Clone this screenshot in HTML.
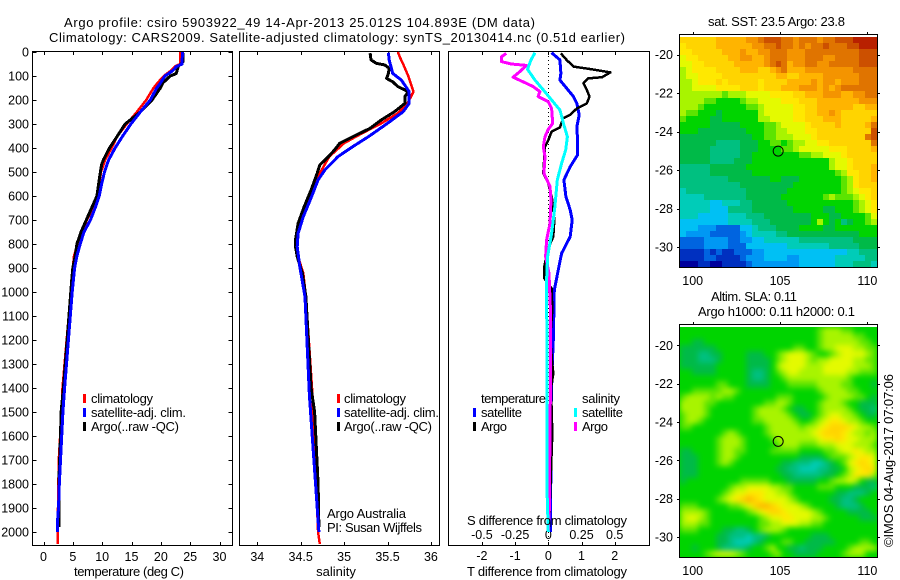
<!DOCTYPE html>
<html lang="en">
<head>
<meta charset="utf-8">
<title>Argo profile csiro 5903922_49</title>
<style>
html,body{margin:0;padding:0;background:#fff;width:900px;height:580px;overflow:hidden}
svg{display:block}
text{font-family:"Liberation Sans",sans-serif;font-size:13px;fill:#000}
#axes text{font-size:12.5px}
</style>
</head>
<body>
<svg id="chart" xmlns="http://www.w3.org/2000/svg" width="900" height="580" viewBox="0 0 900 580">
  <defs>
    <clipPath id="sla-clip"><rect x="680" y="327" width="197" height="230"/></clipPath>
    <filter id="sla-blur" x="-10%" y="-10%" width="120%" height="120%" color-interpolation-filters="sRGB"><feGaussianBlur stdDeviation="3"/></filter>
  </defs>
  <rect x="0" y="0" width="900" height="580" fill="#fff"/>
  <text x="64" y="27" textLength="471" lengthAdjust="spacing">Argo profile: csiro 5903922_49 14-Apr-2013 25.012S 104.893E (DM data)</text>
  <text x="49" y="42" textLength="576" lengthAdjust="spacing">Climatology: CARS2009. Satellite-adjusted climatology: synTS_20130414.nc (0.51d earlier)</text>

  <g id="heat-sst"></g>
  <g clip-path="url(#sla-clip)">
    <rect x="670" y="317" width="217" height="250" fill="#00d400"/>
    <g id="heat-sla" filter="url(#sla-blur)"></g>
  </g>
  <g id="axes"></g>
  <g id="series"></g>

  <text x="129" y="576" text-anchor="middle" textLength="110" lengthAdjust="spacing">temperature (deg C)</text>
  <text x="336" y="576" text-anchor="middle">salinity</text>
  <text x="547" y="576" text-anchor="middle" textLength="160" lengthAdjust="spacing">T difference from climatology</text>
  <text x="547" y="525" text-anchor="middle" textLength="160" lengthAdjust="spacing">S difference from climatology</text>

  <g>
    <rect x="83" y="394" width="3" height="9" fill="#f00"/>
    <text x="91" y="403" textLength="62" lengthAdjust="spacing">climatology</text>
    <rect x="83" y="408" width="3" height="9" fill="#00f"/>
    <text x="91" y="417" textLength="95" lengthAdjust="spacing">satellite-adj. clim.</text>
    <rect x="83" y="422" width="3" height="9" fill="#000"/>
    <text x="91" y="431" textLength="88" lengthAdjust="spacing">Argo(..raw -QC)</text>
  </g>
  <g>
    <rect x="337" y="394" width="3" height="9" fill="#f00"/>
    <text x="344" y="403" textLength="62" lengthAdjust="spacing">climatology</text>
    <rect x="337" y="408" width="3" height="9" fill="#00f"/>
    <text x="344" y="417" textLength="95" lengthAdjust="spacing">satellite-adj. clim.</text>
    <rect x="337" y="422" width="3" height="9" fill="#000"/>
    <text x="344" y="431" textLength="88" lengthAdjust="spacing">Argo(..raw -QC)</text>
  </g>
  <text x="327" y="518" textLength="79" lengthAdjust="spacing">Argo Australia</text>
  <text x="327" y="532" textLength="95" lengthAdjust="spacing">PI: Susan Wijffels</text>

  <g>
    <text x="481" y="403" textLength="65" lengthAdjust="spacing">temperature</text>
    <rect x="473" y="408" width="3" height="9" fill="#00f"/>
    <text x="481" y="417" textLength="41" lengthAdjust="spacing">satellite</text>
    <rect x="473" y="422" width="3" height="9" fill="#000"/>
    <text x="481" y="431" textLength="26" lengthAdjust="spacing">Argo</text>
    <text x="582" y="403" textLength="38" lengthAdjust="spacing">salinity</text>
    <rect x="574" y="408" width="3" height="9" fill="#0ff"/>
    <text x="582" y="417" textLength="41" lengthAdjust="spacing">satellite</text>
    <rect x="574" y="422" width="3" height="9" fill="#f0f"/>
    <text x="582" y="431" textLength="26" lengthAdjust="spacing">Argo</text>
  </g>

  <text x="708" y="26" textLength="137" lengthAdjust="spacing">sat. SST: 23.5 Argo: 23.8</text>
  <text x="711" y="301" textLength="86" lengthAdjust="spacing">Altim. SLA: 0.11</text>
  <text x="698" y="316" textLength="157" lengthAdjust="spacing">Argo h1000: 0.11 h2000: 0.1</text>
  <text transform="translate(893,547) rotate(-90)" textLength="173" lengthAdjust="spacing">©IMOS 04-Aug-2017 07:07:06</text>
</svg>

<script>
// ---------- profile data (depth in m) ----------
const tempDepthTicks = [0,100,200,300,400,500,600,700,800,900,1000,1100,1200,1300,1400,1500,1600,1700,1800,1900,2000];
const temperatureTicks = [0,5,10,15,20,25,30];
const salinityTicks = [34,34.5,35,35.5,36];
const tDiffTicks = [-2,-1,0,1,2];
const sDiffTicks = [-0.5,-0.25,0,0.25,0.5];
const sDiffTickLabels = ['-0.5','-0.25','0','0.25','0.5'];
const lonTicks = [100,105,110];
const latTicks = [-20,-22,-24,-26,-28,-30];

const tClimDepth = [0,50,60,80,100,130,150,200,250,300,350,400,450,500,550,600,650,700,750,800,850,900,1000,1400,1500,1700,2000,2050];
const tClimValue = [23.35,23.3,22.4,21.6,20.5,19.4,18.75,17.5,15.9,14.2,12.6,11.6,10.5,9.8,9.5,9.1,8.4,7.4,6.5,5.8,5.2,5.0,4.65,3.24,3.07,2.6,2.4,2.4];
const tArgoDepth = [5,40,60,90,100,130,150,200,250,300,350,400,450,470,500,550,600,650,700,750,800,850,900,950,1000,1400,1500,1600,1800,1980];
const tArgoValue = [23.75,23.8,23,22.6,21.6,20.3,19.9,18.5,16.5,13.9,12.6,11.25,10.2,9.9,9.7,9.4,9.1,8.2,7.3,6.4,5.7,5.4,5.0,4.8,4.65,3.4,3.0,2.9,2.6,2.6];
const tSatDepth = [0,50,60,80,100,130,150,200,250,300,350,400,450,500,550,600,650,700,750,800,850,900,1000,1400,1500,1600,1700,1800,1900,1950,2000];
const tSatValue = [23.7,23.6,22.7,21.9,20.7,19.9,19.3,18.2,16.5,14.9,13.5,12.2,11.1,10.4,9.9,9.5,8.8,8.0,6.9,6.25,5.7,5.3,4.9,3.6,3.3,3.1,2.9,2.7,2.55,2.4,2.4];

const sClimDepth = [0,20,50,100,165,214,255,297,340,380,436,505,575,644,714,783,853,922,1020,1430,2000,2050];
const sClimValue = [35.62,35.64,35.68,35.74,35.8,35.73,35.62,35.43,35.2,35.0,34.83,34.72,34.62,34.55,34.48,34.44,34.47,34.53,34.56,34.636,34.7,34.72];
const sArgoDepth = [5,33,47,54,68,89,110,124,144,165,186,214,249,283,318,346,380,408,436,471,505,575,644,714,783,811,853,922,1020,1400,1500,1800,1980];
const sArgoValue = [35.3,35.31,35.37,35.47,35.52,35.51,35.49,35.56,35.62,35.74,35.7,35.7,35.58,35.43,35.3,35.14,34.95,34.89,34.82,34.72,34.69,34.62,34.54,34.47,34.44,34.44,34.46,34.52,34.56,34.62,34.66,34.7,34.71];
const sSatDepth = [3,33,89,117,165,214,249,297,353,394,436,491,533,617,686,756,811,894,1020,1430,2000];
const sSatValue = [35.51,35.52,35.56,35.66,35.75,35.75,35.68,35.5,35.28,35.1,34.93,34.78,34.7,34.61,34.53,34.47,34.46,34.49,34.55,34.6,34.71];

const dtSatDepth = [3,33,89,117,151,186,214,262,311,367,429,478,533,603,658,700,769,839,922,992,1075,1200,1300,1400,1500,2000];
const dtSatValue = [0.1,0.35,0.38,0.35,0.55,0.76,0.86,0.93,0.86,0.88,0.88,0.66,0.47,0.53,0.66,0.72,0.66,0.4,0.28,0.18,0.17,0.15,0.12,0.1,0.08,0.07];
const dtArgoDepth = [6,33,61,72,85,105,110,130,158,186,214,235,262,276,314,332,367,394,505,547,617,700,769,825,894,943,985,1075,1150,1180,1300,1340,1400,1590,1980];
const dtArgoValue = [0.38,0.55,0.76,1.31,1.87,1.62,1.2,1.06,1.16,1.24,1.16,0.86,0.66,0.45,0.35,0.1,0,-0.1,-0.15,0,0.12,0.18,0.15,-0.02,-0.12,-0.12,0.1,0.12,0.08,0.05,0.12,0.15,0.08,0.12,0.02];
const dsArgoDepth = [6,20,40,50,56,82,105,124,144,165,186,207,235,297,322,353,394,436,505,561,617,714,783,853,922,1060,1300,1600,1900,2000];
const dsArgoValue = [-0.316,-0.354,-0.354,-0.278,-0.164,-0.215,-0.265,-0.19,-0.114,-0.063,-0.076,0,0.025,0.033,0,-0.025,-0.038,-0.025,-0.033,0.013,0.02,0.013,-0.013,-0.02,0.005,0.015,0.018,0.012,0.008,0];
const dsSatDepth = [3,33,72,117,158,200,242,297,353,408,464,533,644,756,853,950,1075,1400,1850,2000];
const dsSatValue = [-0.1,-0.13,-0.157,-0.1,-0.038,0.025,0.088,0.114,0.144,0.131,0.1,0.068,0.05,0.025,-0.005,-0.013,-0.012,-0.008,-0.008,0];

// ---------- map data: level codes per grid row ----------
const mapPalette = {'0':'#00009c','1':'#0030c0','2':'#0064e0','3':'#0098f4','4':'#00c0f4','5':'#00ccb8','6':'#00c080','7':'#00ba48','8':'#00d400','9':'#5ce400','a':'#a8f400','b':'#e4fa00','c':'#ffe800','d':'#ffd400','e':'#ffb400','f':'#f49400','g':'#e07400','h':'#cc5000','i':'#b82000'};
const sstRows = [
"ddddddeeeeeffghhhggfgggfgghhhiiii",
"cdddddeeeeeeffgghggfgfgghggghhiii",
"ccdddddeeefeeffgggfffggggggggghhh",
"bccdddddeeffeefgggfffgggffgggghhh",
"bbccdddddeeeeefghgeffggffggggghhh",
"abccccddddeeeddefgeeeffffffffgggg",
"abbccccdddddddddeeddeeeeffffffggg",
"aabcccdcdddddcddddeeeefeffefffggg",
"aabbbbccccdddcdddeeefffefefgggggg",
"aaaaaaa9aaabbbbccccddeeefffeeffgg",
"aaaa9988889aabbbbcccdddeeeeeeefff",
"aaa9888888899abbbbbccddeeeeeeddee",
"a998887888888abbbbbccddeefedddddd",
"9888877888888aabbbbccdddeeeddddde",
"8888877777888899abbbbcddddeddddeg",
"8887777777788899aabbbccdddddddddh",
"7777777777778899aaabbbcddddddddgh",
"7777776666777889989aabbccdddddddg",
"7777766666777888899abbbbbcccdddde",
"7777766666778888888899aabbbcddddd",
"7777766667778888888888888abbcdddd",
"6666677777788888888888888abbcddde",
"666667777777888888888888889accdde",
"6666666677777778877788888889acdde",
"6666666666777777777888888889acddd",
"5666666666677777778888888889abccd",
"5555666666677777788888889a999abcd",
"555554455566777777888888888889abc",
"555554446666777777788888778889abc",
"55544444555666777777778887788889b",
"44444444555566677777778a87867889a",
"444333222244566677778888778888888",
"433332222234555566777777777777888",
"222233332233445555556666666667777",
"222233332224444444555555566666777",
"111121211222334444444444444455666",
"111122111123334444334444445555566",
"000110011112333333334444445556665"
];
const slaRows = [
"888888888888888888888889aaa998888",
"888888888888888888888889aaaaa9988",
"887788888888888888888889aaaaaa998",
"777777888888888888899889aabbbaa99",
"77766778888777889abbba9889abbbba9",
"77766678888777789abbba9aabbbbaa99",
"7777778888877778abbbbaaabbbbbaaa9",
"887777888887667 89abbaaaabbbbaa99".replace(' ',''),
"888888888887667889aaaaaaaaaa98888",
"88888899888777788899999aaaa998887",
"8899999aa988888888888889aaaa99888",
"9aaaa9a998888888999888889aaaa9987",
"aaaa998888888899aa988889aaa988777",
"aaaa988888889aaaa9877889aaaa98776",
"9aaa988888889aaaaa987789abbaa9877",
"9aa98888888899aaaaa9889abccbaa988",
"998888888888889aaaaa9aabcdddcbaa9",
"88888889a988889aaaaaaabcdddcbaa9a",
"8888889aaa988889aaaaaaabccdcbbaaa",
"8888889aaa9888889aaa999aaabbbaaa9",
"7788889aa99888899999888899abbcbaa",
"7778889aa9888888888877778999abccb",
"7778889a98888888877666556789bcdcb",
"7778888888888888776655566778abcdc",
"7778888888888888877666667789accca",
"78888888889999988877777889aaba877",
"888888889aabbbbaa9988889998887776",
"88888889abbcccbbaa988888887766678",
"8888889abcdedcbbbba98888877667888",
"9998888899abdeedcbbba988887666788",
"aaaa98888889abcddcbbbba9888877778",
"abba9888888889abbccbbbaa988888777",
"aaa998888888899aabbbaa99888888888",
"9998888776678 9aaa988888888888888".replace(' ',''),
"888888776665667888888877788888888",
"888888776555678889988777778888998",
"88788876666788 9a8877677788889aaa".replace(' ',''),
"88889abbba988889a88777788889aaa88"
];

// ---------- geometry and axis functions ----------
const SVG_NS = 'http://www.w3.org/2000/svg';
const depthY = d => 52 + d * 0.24;
const tempX = v => 43.5 + v * 5.867;
const salX = v => 257.3 + (v - 34) * 86.8;
const dtX = v => 548.3 + v * 33.2;
const dsX = v => 548.3 + v * 132.8;
const lonX = v => 692.7 + (v - 100) * 17.47;
const latY1 = v => 54.7 + (-20 - v) * 19.23;
const latY2 = v => 345.3 + (-20 - v) * 19.17;

const axesG = document.getElementById('axes');
const seriesG = document.getElementById('series');

function make(parent, tag, attrs) {
  const el = document.createElementNS(SVG_NS, tag);
  for (const k in attrs) el.setAttribute(k, attrs[k]);
  parent.appendChild(el);
  return el;
}
function addLine(x1, y1, x2, y2, name) {
  const el = make(axesG, 'line', {x1: x1, y1: y1, x2: x2, y2: y2, stroke: '#000', 'stroke-width': 1, 'shape-rendering': 'crispEdges'});
  
  
  return el;
}
function addLabel(x, y, str, anchor, name) {
  const el = make(axesG, 'text', {x: x, y: y, 'text-anchor': anchor});
  el.textContent = str;
  
  
  return el;
}
function frame(l, t, r, b, name) {
  const el = make(axesG, 'rect', {x: l, y: t, width: r - l, height: b - t, fill: 'none', stroke: '#000', 'stroke-width': 1, 'shape-rendering': 'crispEdges'});
  
  
}
function drawProfile(depths, values, xf, color, width, name) {
  const pts = depths.map((d, i) => xf(values[i]).toFixed(1) + ',' + depthY(d).toFixed(1)).join(' ');
  const el = make(seriesG, 'polyline', {points: pts, fill: 'none', stroke: color, 'stroke-width': width, 'shape-rendering': 'crispEdges', 'stroke-linejoin': 'round'});
  
  
}
function drawHeat(id, rows, left, top, w, h) {
  const g = document.getElementById(id);
  const cols = 33;
  const cw = w / cols, ch = h / rows.length;
  rows.forEach((row, r) => {
    for (let c = 0; c < cols; c++) {
      const code = row[Math.min(c, row.length - 1)];
      const x0 = Math.round(left + c * cw), x1 = Math.round(left + (c + 1) * cw);
      const y0 = Math.round(top + r * ch), y1 = Math.round(top + (r + 1) * ch);
      const cell = make(g, 'rect', {x: x0, y: y0, width: x1 - x0, height: y1 - y0, fill: mapPalette[code]});
      
      
    }
  });
}

// maps
drawHeat('heat-sst', sstRows, 680, 37, 197, 230);
drawHeat('heat-sla', slaRows, 680, 327, 197, 230);

// profile panels
const panelTop = 52, panelBottom = 545;
frame(32.5, panelTop - 0.5, 232.5, panelBottom + 0.5, 'temperature-panel-frame');
frame(239.5, panelTop - 0.5, 439.5, panelBottom + 0.5, 'salinity-panel-frame');
frame(448.5, panelTop - 0.5, 649.5, panelBottom + 0.5, 'difference-panel-frame');

tempDepthTicks.forEach(d => {
  const y = Math.round(depthY(d)) + 0.5;
  addLine(32.5, y, 36.5, y, 'depth-tick-left');
  addLine(228.5, y, 232.5, y, 'depth-tick-right');
  addLabel(29, depthY(d) + 4.5, String(d), 'end', 'depth-tick-label');
});
temperatureTicks.forEach(v => {
  const x = Math.round(tempX(v)) + 0.5;
  addLine(x, 52, x, 55, 'temperature-tick-top');
  addLine(x, 542, x, 545, 'temperature-tick-bottom');
  addLabel(tempX(v), 561, String(v), 'middle', 'temperature-tick-label');
});
salinityTicks.forEach(v => {
  const x = Math.round(salX(v)) + 0.5;
  addLine(x, 52, x, 55, 'salinity-tick-top');
  addLine(x, 542, x, 545, 'salinity-tick-bottom');
  addLabel(salX(v), 561, String(v), 'middle', 'salinity-tick-label');
});
tDiffTicks.forEach(v => {
  const x = Math.round(dtX(v)) + 0.5;
  addLine(x, 52, x, 55, 't-difference-tick-top');
  addLine(x, 542, x, 545, 't-difference-tick-bottom');
  addLabel(dtX(v), 560, String(v), 'middle', 't-difference-tick-label');
});
sDiffTicks.forEach((v, i) => {
  addLabel(dsX(v), 539, sDiffTickLabels[i], 'middle', 's-difference-tick-label');
});

// zero reference line
const zero = addLine(548.5, depthY(0), 548.5, depthY(2050), 'zero-difference-line');
zero.setAttribute('stroke-dasharray', '1 3');

// map frames and ticks
frame(679.5, 34.5, 877.5, 267.5, 'sst-map-frame');
frame(679.5, 324.5, 877.5, 557.5, 'sla-map-frame');
lonTicks.forEach(v => {
  const x = Math.round(lonX(v)) + 0.5;
  addLine(x, 32, x, 34, 'sst-longitude-tick');
  addLine(x, 322, x, 324, 'sla-longitude-tick');
  addLabel(lonX(v), 285, String(v), 'middle', 'sst-longitude-label');
  addLabel(lonX(v), 575, String(v), 'middle', 'sla-longitude-label');
});
latTicks.forEach(v => {
  const y1 = Math.round(latY1(v)) + 0.5, y2 = Math.round(latY2(v)) + 0.5;
  addLine(677, y1, 679, y1, 'sst-latitude-tick-left');
  addLine(878, y1, 880, y1, 'sst-latitude-tick-right');
  addLine(677, y2, 679, y2, 'sla-latitude-tick-left');
  addLine(878, y2, 880, y2, 'sla-latitude-tick-right');
  addLabel(673, latY1(v) + 4.5, String(v), 'end', 'sst-latitude-label');
  addLabel(673, latY2(v) + 4.5, String(v), 'end', 'sla-latitude-label');
});

// profile locations
const profileLon = [104.893];
const profileLat = [-25.012];
const c1 = make(axesG, 'circle', {cx: lonX(profileLon[0]), cy: latY1(profileLat[0]), r: 5, fill: 'none', stroke: '#000', 'stroke-width': 1});


const c2 = make(axesG, 'circle', {cx: lonX(profileLon[0]), cy: latY2(profileLat[0]), r: 5, fill: 'none', stroke: '#000', 'stroke-width': 1});



// series
drawProfile(tClimDepth, tClimValue, tempX, '#f00', 2.5, 'temperature-climatology-line');
drawProfile(tArgoDepth, tArgoValue, tempX, '#000', 3, 'temperature-argo-line');
drawProfile(tSatDepth, tSatValue, tempX, '#00f', 3, 'temperature-satellite-line');
drawProfile(sClimDepth, sClimValue, salX, '#f00', 2.5, 'salinity-climatology-line');
drawProfile(sArgoDepth, sArgoValue, salX, '#000', 3, 'salinity-argo-line');
drawProfile(sSatDepth, sSatValue, salX, '#00f', 3, 'salinity-satellite-line');
drawProfile(dtSatDepth, dtSatValue, dtX, '#00f', 3, 't-difference-satellite-line');
drawProfile(dtArgoDepth, dtArgoValue, dtX, '#000', 2.5, 't-difference-argo-line');
drawProfile(dsArgoDepth, dsArgoValue, dsX, '#f0f', 3, 's-difference-argo-line');
drawProfile(dsSatDepth, dsSatValue, dsX, '#0ff', 3, 's-difference-satellite-line');
</script>
</body>
</html>
